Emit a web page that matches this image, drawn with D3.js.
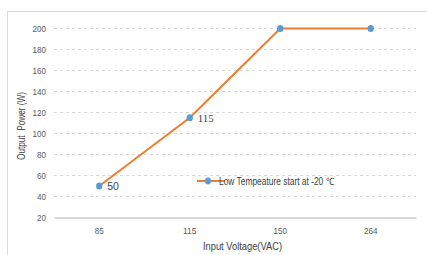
<!DOCTYPE html>
<html><head><meta charset="utf-8">
<script src="https://cdn.jsdelivr.net/npm/d3@7"></script>
<style>body{margin:0;background:#fff}svg{display:block}</style>
</head><body>
<svg id="c" width="427" height="255"></svg>
<script>
const categories = ["85","115","150","264"];
const values = [50,115,200,200];
const labels = ["50","115",null,null];
const yTicks = [20,40,60,80,100,120,140,160,180,200];
const seriesName = "Low Tempeature start at -20 \u2103";

const svg = d3.select("#c");
const font = "'Liberation Sans',Arial,sans-serif";
// outer border
svg.append("rect").attr("x",7.5).attr("y",11.5).attr("width",430).attr("height",260)
  .attr("fill","none").attr("stroke","#d9d9d9");

const x = d3.scaleBand().domain(categories).range([54,416]);
const y = d3.scaleLinear().domain([20,200]).range([217.5,28.5]);

// gridlines
svg.append("g").selectAll("line").data(yTicks.filter(d=>d>20)).join("line")
  .attr("x1",54).attr("x2",416).attr("y1",d=>y(d)).attr("y2",d=>y(d))
  .attr("stroke","#d9d9d9").attr("stroke-width",1).attr("stroke-dasharray","3,3");

// y axis labels
const ya = svg.append("g").attr("transform","translate(46,0)")
  .call(d3.axisLeft(y).tickValues(yTicks).tickSize(0).tickPadding(0));
ya.select(".domain").remove();
ya.selectAll("text").attr("font-family",font).attr("font-size",9).attr("fill","#595959")
  .attr("textLength",d=>String(d).length*4.5).attr("lengthAdjust","spacingAndGlyphs");

// x axis
const xa = svg.append("g").attr("transform","translate(0,217.5)")
  .call(d3.axisBottom(x).tickSize(0).tickPadding(10));
xa.select(".domain").attr("stroke","#d9d9d9").attr("stroke-width",2);
xa.selectAll("text").attr("font-family",font).attr("font-size",9).attr("fill","#595959")
  .attr("textLength",d=>String(d).length*4.5).attr("lengthAdjust","spacingAndGlyphs");

// axis titles
svg.append("text").attr("x",242.5).attr("y",250).attr("text-anchor","middle")
  .attr("font-family",font).attr("font-size",11).attr("fill","#404040")
  .attr("textLength",79).attr("lengthAdjust","spacingAndGlyphs").text("Input Voltage(VAC)");
svg.append("text").attr("transform","translate(25,126) rotate(-90)").attr("text-anchor","middle")
  .attr("font-family",font).attr("font-size",11).attr("fill","#404040")
  .attr("textLength",68).attr("lengthAdjust","spacingAndGlyphs")
  .style("white-space","pre").text("Output  Power (W)");

// line
const pts = categories.map((c,i)=>({c,v:values[i],l:labels[i]}));
const line = d3.line().x(d=>x(d.c)+x.bandwidth()/2).y(d=>y(d.v));
svg.append("path").datum(pts).attr("d",line).attr("fill","none")
  .attr("stroke","#ED7D31").attr("stroke-width",2);
svg.append("g").selectAll("ellipse").data(pts).join("ellipse")
  .attr("cx",d=>x(d.c)+x.bandwidth()/2).attr("cy",d=>y(d.v)).attr("rx",3.2).attr("ry",3.6)
  .attr("fill","#5B9BD5");
svg.append("g").selectAll("text").data(pts.filter(d=>d.l)).join("text")
  .attr("x",d=>x(d.c)+x.bandwidth()/2+8).attr("y",d=>y(d.v)+4)
  .attr("font-family",(d,i)=>i===1?"'Liberation Serif','Times New Roman',serif":font)
  .attr("font-size",(d,i)=>i===1?11:10.5).attr("fill","#404040").text(d=>d.l);

// legend
const lg = svg.append("g").attr("transform","translate(197,181)");
lg.append("line").attr("x1",0).attr("x2",28).attr("y1",0).attr("y2",0)
  .attr("stroke","#ED7D31").attr("stroke-width",2);
lg.append("ellipse").attr("cx",11).attr("cy",0).attr("rx",3).attr("ry",3.4).attr("fill","#5B9BD5");
lg.append("text").attr("x",22).attr("y",3.5).attr("font-family",font).attr("font-size",10)
  .attr("fill","#404040").attr("textLength",115).attr("lengthAdjust","spacingAndGlyphs")
  .text(seriesName);
</script>
</body></html>
